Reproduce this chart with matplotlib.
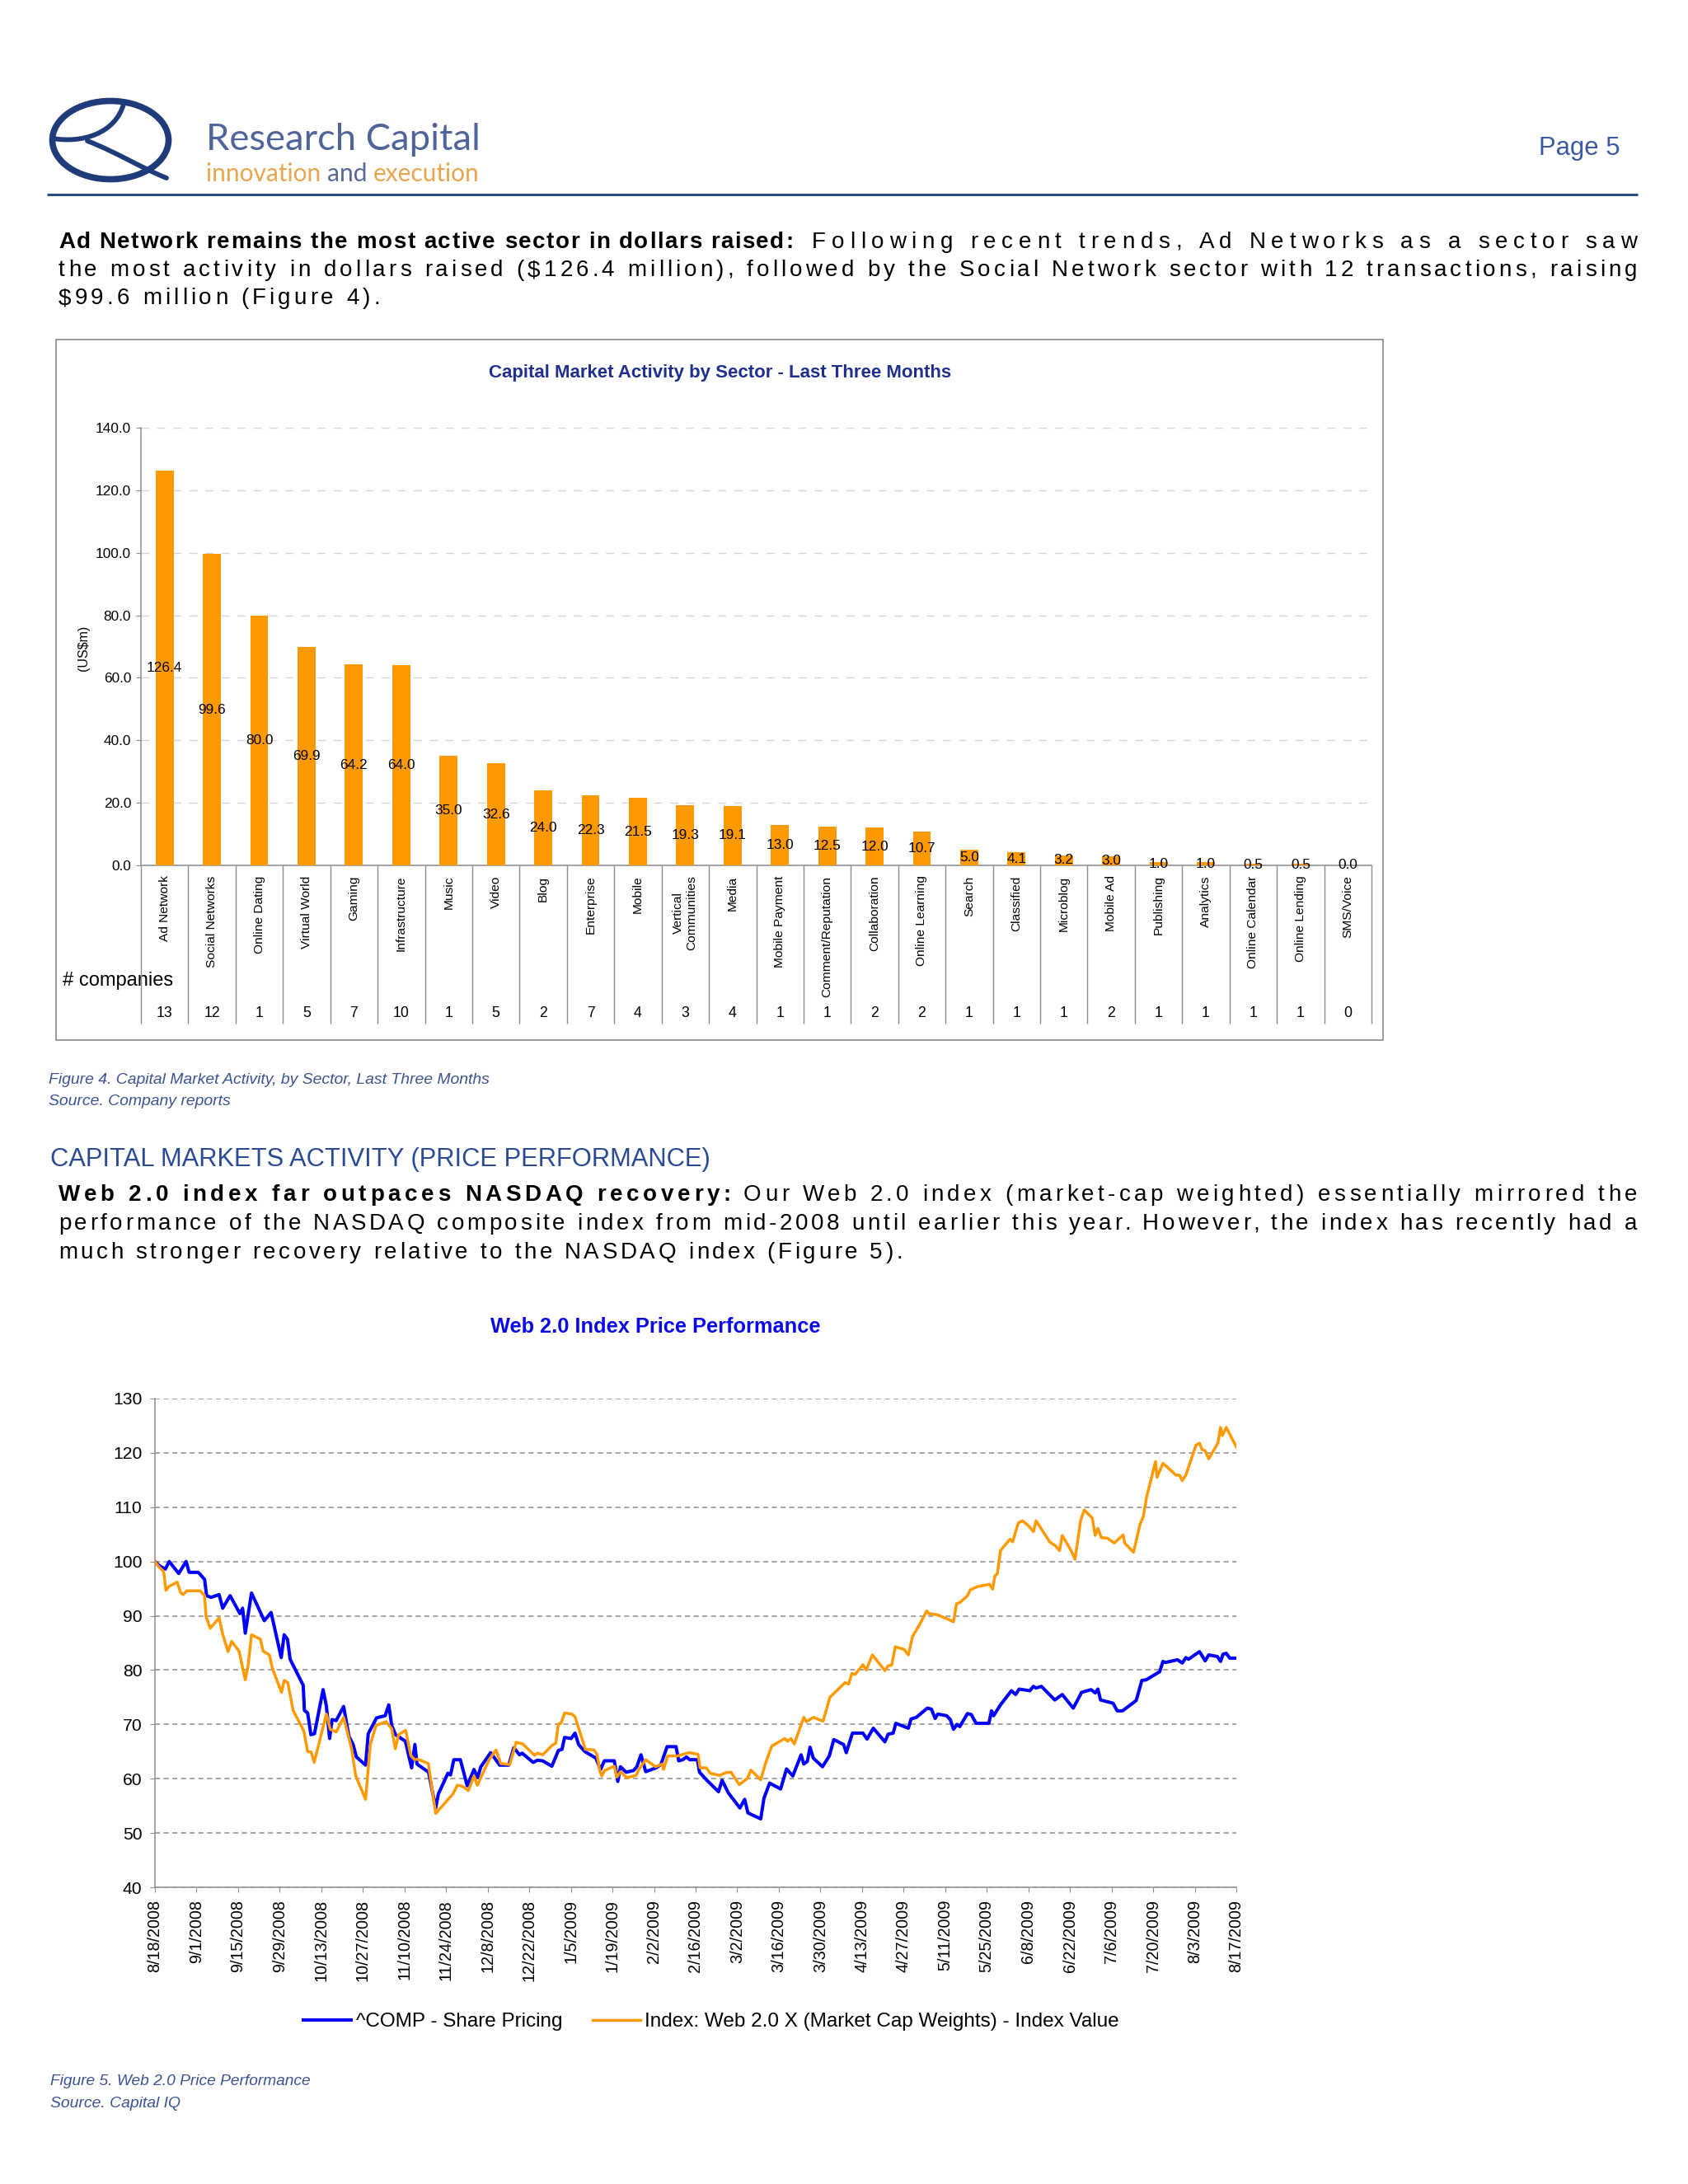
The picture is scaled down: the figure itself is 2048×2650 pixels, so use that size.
import matplotlib
matplotlib.use('Agg')
import matplotlib.pyplot as plt
import numpy as np
import pandas as pd
from matplotlib.font_manager import FontProperties, fontManager
from matplotlib.patches import Ellipse, Rectangle, PathPatch
from matplotlib.path import Path
from matplotlib.ticker import FormatStrFormatter

# ---- Figure 4 data ----
sectors = ['Ad Network', 'Social Networks', 'Online Dating', 'Virtual World', 'Gaming',
           'Infrastructure', 'Music', 'Video', 'Blog', 'Enterprise', 'Mobile',
           'Vertical\nCommunities', 'Media', 'Mobile Payment', 'Comment/Reputation',
           'Collaboration', 'Online Learning', 'Search', 'Classified', 'Microblog',
           'Mobile Ad', 'Publishing', 'Analytics', 'Online Calendar', 'Online Lending',
           'SMS/Voice']
raised = [126.4, 99.6, 80.0, 69.9, 64.2, 64.0, 35.0, 32.6, 24.0, 22.3, 21.5, 19.3, 19.1,
          13.0, 12.5, 12.0, 10.7, 5.0, 4.1, 3.2, 3.0, 1.0, 1.0, 0.5, 0.5, 0.0]
companies = [13, 12, 1, 5, 7, 10, 1, 5, 2, 7, 4, 3, 4, 1, 1, 2, 2, 1, 1, 1, 2, 1, 1, 1, 1, 0]

# ---- Figure 5 data (days after 8/18/2008) ----
start = pd.Timestamp('2008-08-18')
end = pd.Timestamp('2009-08-17')
comp_days = [0, 1.5, 3.5, 4.8, 8, 10.5, 11.5, 14.6, 16.7, 17.4, 18.9, 21.6, 22.8, 25.3, 28.6,
             29.5, 30.4, 32.5, 36.8, 39.1, 42.5, 43.5, 44.6, 45.5, 49.9, 50.3, 51.4, 52.5,
             53.7, 56.6, 57.7, 58.8, 59.6, 61, 63.5, 65.3, 66.7, 67.8, 70.9, 71.8, 74.6,
             77.5, 78.7, 79.7, 81, 84.3, 86.4, 87.5, 88.2, 92.1, 94.5, 95.4, 98.6, 99.5,
             100.6, 102.8, 105.1, 107.4, 108.6, 109.7, 113, 114.2, 116, 119.1,
             120.8, 122.7, 123.6, 127.3, 128.7, 130.5, 133.6, 135.8, 137, 137.9, 140.1,
             141.4, 142.6, 144.7, 148.4, 150, 151.3, 154.6, 155.8, 156.7, 158.6, 161.1,
             162.2, 163.6, 165.2, 168.7, 170.3, 172.4, 175.4, 176.3, 177.7, 178.9, 180,
             182.6, 183.3, 185.8, 189.7, 190.9, 193, 196.9, 198.5, 199.6, 203.9, 205,
             206.9, 210.6, 212.6, 214.7, 217.5, 218.4, 219.6, 220.5, 221.6, 224.7, 227,
             228.5, 231.8, 232.7, 234.8, 238.3, 239.7, 241.8,
             245.7, 246.8, 248.5, 249.4, 253.6, 254.5, 256.3, 260, 261.4, 262.6, 263.5,
             266.5, 267.7, 268.8, 270, 270.9, 273.5, 274.8, 276.4, 280.7, 281.6, 282.3,
             284.6, 288.3, 289.7, 290.9, 294.5, 295.7, 296.6, 298.4, 302.9, 305.4, 309.1,
             310.4, 311.9, 315.1, 316.5, 317.4, 318.3, 322.5, 323.9, 325.7, 330.3, 332.2,
             333.6, 338.2, 339.3, 340.1, 344.2, 345.8, 347, 347.9, 351.6, 353.5, 354.7,
             357.6, 358.7, 359.5, 360.6, 361.8, 364]
comp_vals = [100, 99.2, 98.6, 100, 97.8, 100, 98, 98, 96.7, 93.7, 93.4, 93.9, 91.4, 93.7, 90.4,
             91.4, 86.8, 94.2, 89.1, 90.6, 82.3, 86.5, 85.7, 82, 77.2, 72.6, 72.1, 68.1,
             68.3, 76.4, 73.4, 67.4, 70.9, 70.7, 73.3, 67.8, 66.3, 64, 62.5, 68.3, 71.2,
             71.6, 73.6, 69.8, 68.1, 66.9, 62, 66.3, 62.7, 61.2, 54.6, 57.2, 61, 60.7,
             63.5, 63.5, 58.7, 61.7, 60.2, 62.2, 64.8, 63.9, 62.5, 62.5,
             65.7, 64.4, 64.7, 63, 63.4, 63.3, 62.3, 65.2, 65.4, 67.6, 67.4,
             68.4, 66.3, 65, 63.8, 61.7, 63.3, 63.3, 59.5, 62.2, 61.2, 61.5,
             62.2, 64.4, 61.3, 62, 62.6, 65.9, 65.9, 63.3, 63.5, 64, 63.5,
             63.5, 61.2, 59.7, 57.6, 59.7, 57.4, 54.6, 56.2, 53.7, 52.6, 56.4,
             59.2, 58.1, 61.8, 60.5, 64.4, 62.7, 63.2, 65.8, 63.8, 62.2, 64.2,
             67.2, 66.3, 64.8, 68.4, 68.4, 67.3, 69.3,
             66.8, 68.2, 68.4, 70.2, 69.3, 71, 71.3, 73, 72.8, 71.1, 71.9,
             71.6, 70.9, 69.1, 70, 69.6, 72, 71.8, 70.2, 70.2, 72.5, 71.6,
             73.6, 76.2, 75.5, 76.5, 76.2, 77, 76.7, 77, 74.5, 75.5, 73,
             74.3, 75.9, 76.4, 75.8, 76.5, 74.5, 73.9, 72.5, 72.5, 74.4, 78.1,
             78.2, 79.7, 81.6, 81.4, 81.9, 81.3, 82.3, 82, 83.4, 81.7, 82.8,
             82.5, 81.6, 82.9, 83.1, 82.2, 82.2]
web_days = [0, 1.3, 2.9, 3.7, 4.7, 7.5, 8.6, 9.5, 10.7, 15.2, 16.7, 17.2, 18.6, 21.6, 22.8,
            24.6, 25.8, 28.3, 30.4, 31.4, 32.5, 35.5, 36.4, 38.5, 39.6, 42.6, 43.5, 44.7,
            46.5, 50.1, 51.4, 52.6, 53.6, 57.7, 59, 61, 63.5, 66.2, 67.6, 70.9, 72.5, 74.4,
            77.8, 79.7, 80.9, 82, 84.4, 86.1, 87.4, 88.4, 92, 94.5, 100.3, 101.8, 103.5,
            105.5, 107.4, 108.5, 112.5, 114.8, 116.4, 119.4,
            121.6, 123.8, 127.8, 128.7, 130.5, 133.8, 134.9, 135.8, 136.7, 137.9, 140.4,
            141.4, 144.9, 147.8, 148.8, 149.7, 150.4, 151.3, 154.6, 155.5, 156.7, 158.8,
            162, 162.9, 165.2, 168.5, 170.8, 171.2, 172.6, 175.9, 179.8, 182.8, 183.5,
            185.6, 186.9, 190.2, 192, 193.9, 196.7, 199.5, 200.6, 203.9, 205.5, 207.6,
            211.1, 212, 212.9, 214.1, 215.2, 218.4, 219.3, 221.6, 224.9, 227.2, 232.3,
            233.5, 234.6, 235.7, 238.3, 239.4, 241.5,
            245.7, 246.8, 248, 249.2, 252.2, 253.6, 255, 257.3, 259.8, 260.5, 263.3,
            266.8, 268.8, 269.8, 271.1, 273.5, 274.5, 277, 280.9, 282, 282.7, 283.6,
            284.6, 287.8, 288.7, 290.6, 292, 294, 295.7, 296.6, 301.2, 303.1, 304.5,
            305.4, 308.4, 309.7, 311.6, 312.8, 315.5, 316.5, 317.4, 318.6, 320.6, 322.9,
            325.9, 326.4, 329.4, 331.6, 332.7, 333.8, 336.8, 337.3, 339.3, 343.7, 344.9,
            345.8, 347, 350.4, 351.6, 352.5, 353.5, 354.7, 357.8, 358.7, 359.3, 360.6, 364]
web_vals = [100, 99, 98.2, 94.7, 95.4, 96.2, 94.3, 93.9, 94.6, 94.6, 93.7, 89.9, 87.7, 89.6, 86.6,
            83.4, 85.3, 83.5, 78.2, 81, 86.5, 85.7, 83.5, 82.8, 80.2, 75.9, 78.1, 77.7,
            72.6, 68.8, 65, 64.9, 63, 71.9, 69.1, 68.6, 71.3, 65.5, 60.5, 56.2, 66.3, 69.8,
            70.5, 69.2, 65.5, 68.1, 68.9, 64.3, 63.5, 63.6, 62.8, 53.6, 57.2, 58.8, 58.6,
            57.8, 60.5, 58.8, 63.5, 65.3, 62.8, 62.6,
            66.7, 66.4, 64.3, 64.7, 64.4, 66.2, 66.5, 70.1, 70.2, 72.1, 71.9,
            71.4, 65.4, 65.3, 64.5, 61.5, 60.5, 61.5, 62.3, 60.3, 61.3, 60.2,
            60.6, 61.7, 63.5, 62.2, 62.7, 61.7, 64.2, 64.2, 64.8, 64.5, 62,
            62, 61, 60.6, 61.1, 61.2, 58.9, 60.1, 61.6, 59.8, 62.8, 66,
            67.1, 67.4, 66.9, 67.4, 66.4, 71.3, 70.5, 71.3, 70.6, 75, 77.7,
            77.4, 79.4, 79.2, 81, 80, 82.8,
            79.9, 80.8, 80.9, 84.3, 83.8, 82.8, 86.2, 88.3, 90.9, 90.4, 90.2,
            89.4, 88.9, 92.2, 92.5, 93.7, 94.8, 95.4, 95.8, 94.9, 97.3, 97.8,
            102, 104.1, 103.6, 107.1, 107.5, 106.6, 105.5, 107.5, 103.6, 102.9, 102,
            104.8, 102, 100.4, 107.6, 109.5, 108, 104.8, 106.1, 104.4, 104.3, 103.4,
            104.9, 103.4, 101.7, 106.9, 108.3, 111.9, 118.4, 115.5, 118.1, 115.9, 115.9,
            114.9, 115.9, 121.4, 121.8, 120.6, 120.4, 118.9, 121.8, 124.7, 123.2, 124.7, 121.1]
tick_dates = pd.date_range(start, end, freq='14D')

W, H = 2048, 2650
SANS = 'Liberation Sans'
plt.rcParams['font.family'] = SANS
names = {f.name for f in fontManager.ttflist}
if 'Liberation Sans Narrow' in names:
    NARROW, K = 'Liberation Sans Narrow', 1.12
else:
    NARROW, K = SANS, 0.92

fig = plt.figure(figsize=(W / 100, H / 100), dpi=100)
R = fig.canvas.get_renderer()

# page layer in pixel coordinates
page = fig.add_axes([0, 0, 1, 1])
page.set_xlim(0, W)
page.set_ylim(H, 0)
page.axis('off')


def tw(s, fp):
    return R.get_text_width_height_descent(s, fp, ismath=False)[0]


def fit_text(x, y, s, width, color, ha='left', va='baseline', weight='normal',
             style='normal', family=SANS, **kw):
    fp = FontProperties(family=family, weight=weight, style=style, size=20)
    fp.set_size(20 * width / tw(s, fp))
    page.text(x, y, s, fontproperties=fp, color=color, ha=ha, va=va, **kw)
    return fp.get_size()


def tracked_line(x0, y, text, size, weight='normal', x1=None, extra=None):
    # draw one line char by char with even letter spacing (justified if x1 given)
    fp = FontProperties(family=SANS, weight=weight, size=size)
    bw = tw('|', fp)
    pos = [tw(text[:i] + '|', fp) - bw for i in range(len(text))]
    full = tw(text + '|', fp) - bw
    if extra is None:
        extra = (x1 - x0 - full) / (len(text) - 1)
    for k, c in enumerate(text):
        if c != ' ':
            page.text(x0 + pos[k] + k * extra, y, c, fontproperties=fp, color='black',
                      ha='left', va='baseline')
    return extra


# ---- header ----
NAVY = '#1F3B7A'
page.add_patch(Ellipse((134, 170), 141, 95, fill=False, ec=NAVY, lw=5.5))
bowl = Path([(64, 168), (100, 174), (140, 162), (150, 126)],
            [Path.MOVETO, Path.CURVE4, Path.CURVE4, Path.CURVE4])
leg = Path([(106, 171), (140, 184), (172, 204), (202, 216)],
           [Path.MOVETO, Path.CURVE4, Path.CURVE4, Path.CURVE4])
page.add_patch(PathPatch(bowl, fill=False, ec=NAVY, lw=4.2, capstyle='round'))
page.add_patch(PathPatch(leg, fill=False, ec=NAVY, lw=4.2, capstyle='round'))
fit_text(250, 182, 'Research Capital', 333, '#4F6599', family='Lato')
tag_fp = FontProperties(family='Lato', size=20)
tag_parts = [('innovation ', '#E8A64F'), ('and ', '#56699A'), ('execution', '#E8A64F')]
tag_fp.set_size(20 * 333 / tw(''.join(p for p, _ in tag_parts), tag_fp))
tx = 250
for part, col in tag_parts:
    page.text(tx, 220, part, fontproperties=tag_fp, color=col, va='baseline')
    tx += tw(part + '|', tag_fp) - tw('|', tag_fp)
fit_text(1867, 188, 'Page 5', 98, '#3C5AA0')
page.plot([57, 1987], [236, 236], color='#2E4B8A', lw=2.2, solid_capstyle='butt')

# ---- paragraph 1 ----
BODY = 20
tracked_line(71, 301, 'Ad Network remains the most active sector in dollars raised:', BODY,
             weight='bold', x1=962)
tracked_line(985, 301, 'Following recent trends, Ad Networks as a sector saw', BODY, x1=1986)
ex = tracked_line(71, 335, 'the most activity in dollars raised ($126.4 million), followed by the '
                  'Social Network sector with 12 transactions, raising', BODY, x1=1986)
tracked_line(71, 369, '$99.6 million (Figure 4).', BODY, extra=ex)

# ---- Figure 4: bar chart ----
page.add_patch(Rectangle((68, 412), 1610, 850, fill=False, ec='#8a8a8a', lw=1.2))
fit_text(874, 458, 'Capital Market Activity by Sector - Last Three Months', 561, '#1F2F8C',
         ha='center', weight='bold')

axb = fig.add_axes([171 / W, 1 - 1050 / H, (1664 - 171) / W, (1050 - 519) / H])
x = np.arange(len(sectors))
axb.bar(x, raised, width=0.38, color='#FF9900', zorder=3)
axb.set_xlim(-0.5, len(sectors) - 0.5)
axb.set_ylim(0, 140)
axb.set_yticks(np.arange(0, 141, 20))
axb.yaxis.set_major_formatter(FormatStrFormatter('%.1f'))
axb.yaxis.grid(True, color='#d5d5d5', lw=1.0, ls=(0, (7, 7)), zorder=0)
for side in ['top', 'right']:
    axb.spines[side].set_visible(False)
for side in ['left', 'bottom']:
    axb.spines[side].set_color('#8c8c8c')
    axb.spines[side].set_linewidth(1.1)
axb.set_xticks(x, labels=sectors, rotation=90, family=NARROW, fontsize=12.1 * K)
axb.tick_params(axis='x', length=0, pad=9.0)
axb.tick_params(axis='y', length=4.1, color='#8c8c8c', pad=4.5, labelsize=13.5 * K)
for lab in axb.get_yticklabels():
    lab.set_family(NARROW)
for xi, v in zip(x, raised):
    axb.text(xi, v / 2, f'{v:.1f}', ha='center', va='center', family=NARROW,
             fontsize=13.5 * K, zorder=4)
tb = axb.get_xaxis_transform()
axb.vlines(np.arange(len(sectors) + 1) - 0.5, -(1242 - 1050) / 531, 0, transform=tb,
           clip_on=False, color='#8c8c8c', lw=1.0)
for xi, c in zip(x, companies):
    axb.text(xi, -(1229 - 1050) / 531, str(c), transform=tb, ha='center', va='center',
             family=NARROW, fontsize=13.8 * K)
fit_text(76, 1190, '# companies', 134, 'black', va='center', family=NARROW)
page.text(101, 786, '(US$m)', family=NARROW, fontsize=12.5 * K, rotation=90,
          ha='center', va='center')

# ---- captions & section ----
CAP = '#3B5390'
fit_text(59, 1315, 'Figure 4. Capital Market Activity, by Sector, Last Three Months', 536, CAP,
         style='italic')
fit_text(59, 1341, 'Source. Company reports', 221, CAP, style='italic')
fit_text(61, 1415, 'CAPITAL MARKETS ACTIVITY (PRICE PERFORMANCE)', 798, '#2B4A94')

tracked_line(71, 1457, 'Web 2.0 index far outpaces NASDAQ recovery:', BODY, weight='bold', x1=887)
tracked_line(902, 1457, 'Our Web 2.0 index (market-cap weighted) essentially mirrored the', BODY,
             x1=1986)
ex = tracked_line(71, 1492, 'performance of the NASDAQ composite index from mid-2008 until earlier '
                  'this year. However, the index has recently had a', BODY, x1=1986)
tracked_line(71, 1527, 'much stronger recovery relative to the NASDAQ index (Figure 5).', BODY,
             extra=ex)

# ---- Figure 5: line chart ----
fit_text(795, 1617, 'Web 2.0 Index Price Performance', 400, '#0A0AE6', ha='center', weight='bold')
axl = fig.add_axes([188 / W, 1 - 2290 / H, 1312 / W, 593 / H])
comp_dates = (start + pd.to_timedelta(comp_days, unit='D')).to_numpy()
web_dates = (start + pd.to_timedelta(web_days, unit='D')).to_numpy()
axl.plot(comp_dates, comp_vals, color='#0000FF', lw=2.9, label='^COMP - Share Pricing', zorder=3)
axl.plot(web_dates, web_vals, color='#FF9900', lw=2.5,
         label='Index: Web 2.0 X (Market Cap Weights) - Index Value', zorder=4)
axl.set_xlim(start.to_datetime64(), end.to_datetime64())
axl.set_ylim(40, 130)
axl.set_yticks(np.arange(40, 131, 10))
axl.set_xticks(tick_dates.to_numpy(), labels=[f'{d.month}/{d.day}/{d.year}' for d in tick_dates],
               rotation=90, family=NARROW, fontsize=15.5 * K)
axl.yaxis.grid(True, color='#8c8c8c', lw=1.1, ls=(0, (4, 2.9)), zorder=0)
for side in ['top', 'right']:
    axl.spines[side].set_visible(False)
for side in ['left', 'bottom']:
    axl.spines[side].set_color('#8c8c8c')
    axl.spines[side].set_linewidth(1.1)
axl.tick_params(axis='both', length=4.3, color='#8c8c8c')
axl.tick_params(axis='x', pad=6.5)
axl.tick_params(axis='y', pad=6.8, labelsize=16.5 * K)
for lab in axl.get_yticklabels():
    lab.set_family(NARROW)
fig.legend(loc='center', bbox_to_anchor=(863 / W, 1 - 2453 / H), ncol=2, frameon=False,
           fontsize=17.5, handlelength=2.4, handletextpad=0.22, columnspacing=1.5)

fit_text(61, 2530, 'Figure 5. Web 2.0 Price Performance', 316, CAP, style='italic')
fit_text(61, 2557, 'Source. Capital IQ', 158, CAP, style='italic')

fig.savefig('out.png', dpi=100)
